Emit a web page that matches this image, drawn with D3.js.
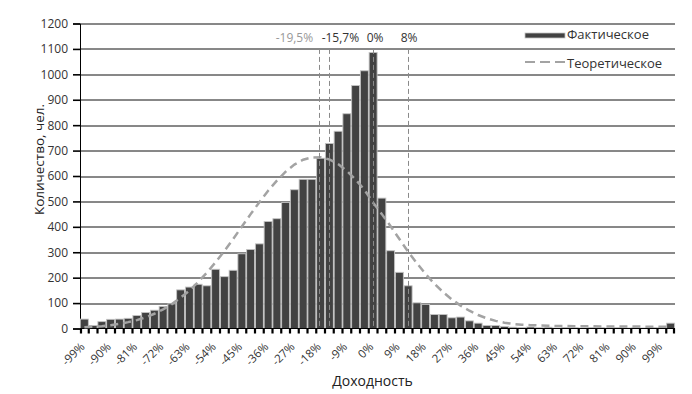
<!DOCTYPE html>
<html>
<head>
<meta charset="utf-8">
<script src="https://cdn.jsdelivr.net/npm/d3@7"></script>
<style>
body { margin: 0; background: #fff; }
text { font-family: "Open Sans", sans-serif; }
</style>
</head>
<body>
<script>
// bins of return, %
var categories = [-99,-96,-93,-90,-87,-84,-81,-78,-75,-72,-69,-66,-63,-60,-57,-54,-51,-48,-45,-42,
    -39,-36,-33,-30,-27,-24,-21,-18,-15,-12,-9,-6,-3,0,3,6,9,12,15,18,21,24,27,30,33,36,39,42,45,48,
    51,54,57,60,63,66,69,72,75,78,81,84,87,90,93,96,99,102];

// Фактическое
var actual = [37,12,27,36,37,40,51,63,72,87,97,152,163,174,168,233,204,229,294,311,
    333,421,432,496,546,587,587,670,728,776,845,956,1014,1086,513,306,221,168,101,95,
    55,55,42,45,30,21,12,12,8,5,4,6,3,5,2,4,3,2,4,3,2,3,2,3,2,3,4,21];

// Теоретическое
var theoretical = [5,7,9,13,18,25,33,44,58,75,96,121,149,183,220,261,305,352,401,450,
    497,542,582,617,645,664,673,674,665,647,620,586,546,495,450,402,352,302,257,214,
    176,143,114,90,70,53,40,30,23,18,15,13,12,11,10,10,9,9,9,8,8,8,8,8,7,7,7,7];

var tickLabels = ["-99%","-90%","-81%","-72%","-63%","-54%","-45%","-36%","-27%","-18%","-9%","0%",
    "9%","18%","27%","36%","45%","54%","63%","72%","81%","90%","99%"];

var yTicks = [0,100,200,300,400,500,600,700,800,900,1000,1100,1200];

// vertical markers (label, position on the axis in %)
var markerLabels = ["-19,5%","-15,7%","0%","8%"];
var markerAt = [-18.5,-15,0,12];

var legendLabels = ["Фактическое","Теоретическое"];

//Width and height
var margin = {top: 23.5, right: 17, bottom: 65.5, left: 80};
var width = 692 - margin.left - margin.right;
var height = 394 - margin.top - margin.bottom;

var svg = d3.select("body")
    .append("svg")
    .attr("width", width + margin.left + margin.right)
    .attr("height", height + margin.top + margin.bottom)
    .append("g")
    .attr("transform", "translate(" + margin.left + "," + margin.top + ")");

var xScale = d3.scaleBand()
    .domain(d3.range(categories.length))
    .range([0, width])
    .padding(0);
var bw = xScale.bandwidth();

// continuous % scale on the same axis
var pScale = d3.scaleLinear()
    .domain([categories[0] - 1.5, categories[categories.length - 1] + 1.5])
    .range([0, width]);

var yScale = d3.scaleLinear()
    .domain([0, 1200])
    .range([height, 0]);

//grid
svg.append("g").selectAll("line")
    .data(yTicks.slice(1))
    .enter()
    .append("line")
    .attr("x1", 0).attr("x2", width)
    .attr("y1", function(d){ return Math.round(yScale(d)) + 0.5; })
    .attr("y2", function(d){ return Math.round(yScale(d)) + 0.5; })
    .attr("stroke", "#111")
    .attr("stroke-width", 1);

//y axis
var yAxis = d3.axisLeft(yScale).tickValues(yTicks).tickFormat(d3.format("d")).tickSize(7).tickPadding(5);
var yAxisGroup = svg.append("g").call(yAxis);
yAxisGroup.select(".domain").attr("stroke", "#000");
yAxisGroup.selectAll(".tick line").attr("stroke", "#000").attr("stroke-width", 1.6);
yAxisGroup.selectAll("text")
    .attr("fill", "#333")
    .style("font-size", "12px")
    .style("font-family", "'Open Sans', sans-serif");

//bars
svg.append("g").selectAll("rect")
    .data(actual)
    .enter()
    .append("rect")
    .attr("x", function(d, i){ return xScale(i) + 0.4; })
    .attr("width", bw - 0.8)
    .attr("y", function(d){ return yScale(d); })
    .attr("height", function(d){ return height - yScale(d); })
    .attr("fill", "#424242")
    .attr("stroke", "#c4c4c4")
    .attr("stroke-width", 0.9);

//x axis line + ticks between categories
svg.append("line")
    .attr("x1", 0).attr("x2", width)
    .attr("y1", height).attr("y2", height)
    .attr("stroke", "#000");
svg.append("g").selectAll("line")
    .data(d3.range(categories.length + 1))
    .enter()
    .append("line")
    .attr("x1", function(d){ return Math.min(width - 1, Math.max(1, d * bw)); })
    .attr("x2", function(d){ return Math.min(width - 1, Math.max(1, d * bw)); })
    .attr("y1", height).attr("y2", height + 5)
    .attr("stroke", "#000")
    .attr("stroke-width", 2.2);

//x labels, every 3rd category
svg.append("g").selectAll("text")
    .data(tickLabels)
    .enter()
    .append("text")
    .attr("transform", function(d, i){
        var cx = xScale(i * 3) + bw / 2 + 1;
        return "translate(" + cx + "," + (height + 19) + ") rotate(-45)";
    })
    .attr("text-anchor", "end")
    .attr("fill", "#333")
    .style("font-size", "11.5px")
    .text(function(d){ return d; });

//theoretical curve
var line = d3.line()
    .x(function(d, i){ return xScale(i) + bw / 2; })
    .y(function(d){ return yScale(d); });
svg.append("path")
    .datum(theoretical)
    .attr("d", line)
    .attr("fill", "none")
    .attr("stroke", "#a3a3a3")
    .attr("stroke-width", 2.5)
    .attr("stroke-dasharray", "8,5");

//markers
var markerDx = [-6, 11, 2, 1];
var markerAnchor = ["end", "middle", "middle", "middle"];
var markerColor = ["#999", "#333", "#333", "#333"];
svg.append("g").selectAll("line")
    .data(markerAt)
    .enter()
    .append("line")
    .attr("x1", function(d){ return Math.round(pScale(d)) + 0.5; })
    .attr("x2", function(d){ return Math.round(pScale(d)) + 0.5; })
    .attr("y1", yScale(1100))
    .attr("y2", height)
    .attr("stroke", "#8a8a8a")
    .attr("stroke-width", 1)
    .attr("stroke-dasharray", "5,3");
svg.append("g").selectAll("text")
    .data(markerLabels)
    .enter()
    .append("text")
    .attr("x", function(d, i){ return pScale(markerAt[i]) + markerDx[i]; })
    .attr("y", 18)
    .attr("text-anchor", function(d, i){ return markerAnchor[i]; })
    .attr("fill", function(d, i){ return markerColor[i]; })
    .style("font-size", "12px")
    .text(function(d){ return d; });

//legend
var legend = svg.append("g").attr("transform", "translate(445,0)");
legend.append("rect")
    .attr("x", 0).attr("y", 9.5)
    .attr("width", 40).attr("height", 5)
    .attr("fill", "#424242")
    .attr("stroke", "#c4c4c4")
    .attr("stroke-width", 0.8);
legend.append("line")
    .attr("x1", 0).attr("x2", 40)
    .attr("y1", 38.5).attr("y2", 38.5)
    .attr("stroke", "#a3a3a3")
    .attr("stroke-width", 2)
    .attr("stroke-dasharray", "10,5");
legend.selectAll("text.lg")
    .data(legendLabels)
    .enter()
    .append("text")
    .attr("class", "lg")
    .attr("x", 42)
    .attr("y", function(d, i){ return 15.5 + i * 28.5; })
    .attr("fill", "#333")
    .style("font-size", "13px")
    .text(function(d){ return d; });

//axis titles
svg.append("text")
    .attr("x", width / 2 - 5)
    .attr("y", height + 57)
    .attr("text-anchor", "middle")
    .attr("fill", "#222")
    .style("font-size", "14px")
    .text("Доходность");
svg.append("text")
    .attr("transform", "translate(" + (44 - margin.left) + "," + 136 + ") rotate(-90)")
    .attr("text-anchor", "middle")
    .attr("fill", "#222")
    .style("font-size", "13.5px")
    .text("Количество, чел.");
</script>
</body>
</html>
